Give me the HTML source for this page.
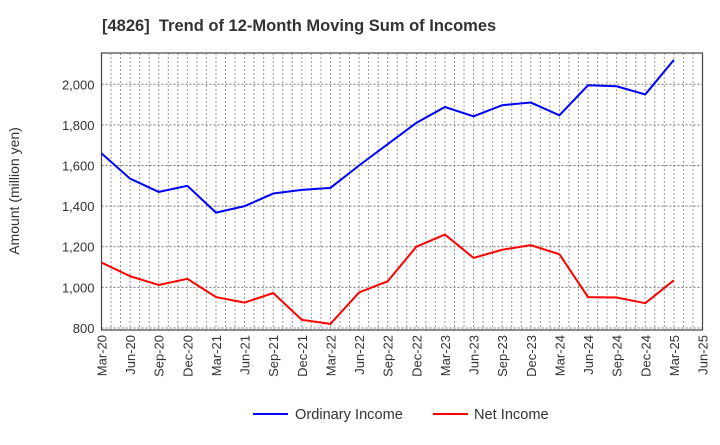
<!DOCTYPE html>
<html><head><meta charset="utf-8"><style>
body{margin:0;background:#fff;font-family:"Liberation Sans",Arial,sans-serif}
svg text{font-family:"Liberation Sans",Arial,sans-serif}
</style></head><body>
<svg id="chart" width="720" height="440" xmlns="http://www.w3.org/2000/svg">
<text x="102" y="31" font-size="16.5" font-weight="bold" fill="#333" xml:space="preserve" style="white-space:pre">[4826]  Trend of 12-Month Moving Sum of Incomes</text>
<g id="grid"></g>
<g id="axes"></g>
<g id="series"></g>
<text transform="translate(19,191) rotate(-90)" text-anchor="middle" font-size="14" fill="#333">Amount (million yen)</text>
<g>
<line x1="253" y1="414" x2="288" y2="414" stroke="#0000ff" stroke-width="2"/>
<text x="295" y="419" font-size="14.6" fill="#333">Ordinary Income</text>
<line x1="433" y1="414" x2="468" y2="414" stroke="#ff0000" stroke-width="2"/>
<text x="474" y="419" font-size="14.6" fill="#333">Net Income</text>
</g>
</svg>
<script>
const categories=["Mar-20","Jun-20","Sep-20","Dec-20","Mar-21","Jun-21","Sep-21","Dec-21","Mar-22","Jun-22","Sep-22","Dec-22","Mar-23","Jun-23","Sep-23","Dec-23","Mar-24","Jun-24","Sep-24","Dec-24","Mar-25","Jun-25"];
const ordinaryIncome=[1660,1535,1470,1500,1368,1400,1462,1480,1490,1600,1705,1810,1888,1842,1897,1910,1847,1995,1990,1950,2120];
const netIncome=[1122,1055,1012,1042,952,925,972,840,820,975,1030,1200,1260,1145,1185,1208,1163,952,950,922,1035];
const yTicks=[800,1000,1200,1400,1600,1800,2000];

const NS="http://www.w3.org/2000/svg";
const L=101.5,R=702.5,T=53,B=330,yMin=790,yMax=2154;
const x=i=>L+(R-L)*i/(categories.length-1);
const y=v=>B-(v-yMin)/(yMax-yMin)*(B-T);
function mk(tag,attrs,parent){const e=document.createElementNS(NS,tag);for(const k in attrs)e.setAttribute(k,attrs[k]);parent.appendChild(e);return e;}
const grid=document.getElementById('grid'),axes=document.getElementById('axes'),series=document.getElementById('series');
const nMonths=(categories.length-1)*3;
for(let m=1;m<nMonths;m++){const xx=L+(R-L)*m/nMonths;
const gl=mk('line',{x1:xx,x2:xx,y1:T,y2:B,stroke:'#999','stroke-dasharray':'2,2','stroke-width':1},grid);

}
yTicks.forEach(v=>{const yy=y(v);
const gl=mk('line',{x1:L,x2:R,y1:yy,y2:yy,stroke:'#777','stroke-dasharray':'2,2','stroke-width':1},grid);


const t=mk('text',{x:L-7,y:yy+5,'text-anchor':'end','font-size':13,fill:'#333'},axes);
t.textContent=v.toLocaleString('en-US');

});
categories.forEach((c,i)=>{const xx=x(i);
const t=mk('text',{transform:`translate(${xx+5},${B+5}) rotate(-90)`,'text-anchor':'end','font-size':13,fill:'#333'},axes);
t.textContent=c;

});
const frame=mk('rect',{x:L,y:T,width:R-L,height:B-T,fill:'none',stroke:'#444','stroke-width':1.2},axes);


function line(vals,color,name){const p=mk('polyline',{points:vals.map((v,i)=>x(i)+','+y(v)).join(' '),fill:'none',stroke:color,'stroke-width':2},series);

}
line(ordinaryIncome,'#0000ff','ordinary-income-line');
line(netIncome,'#ff0000','net-income-line');
</script>
</body></html>
